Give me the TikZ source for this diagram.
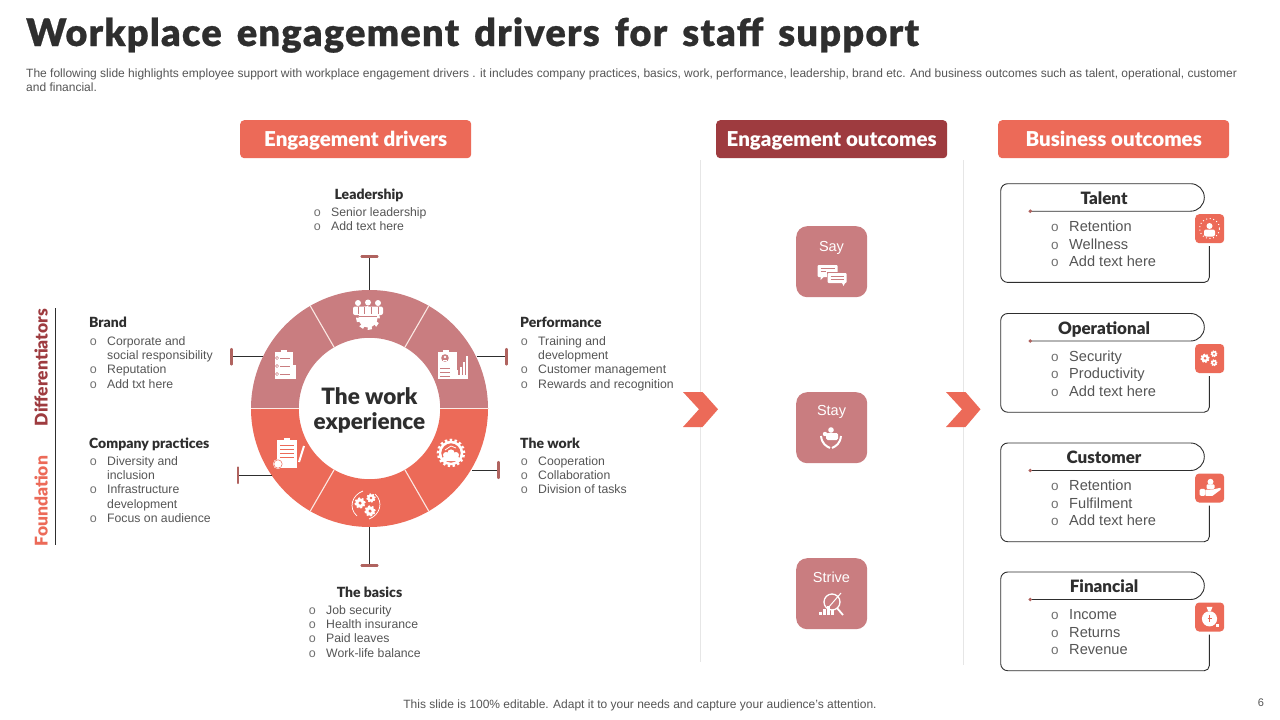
\documentclass[tikz,border=0pt]{standalone}
\usepackage{fontspec}
\setmainfont{Liberation Sans}
\newfontfamily\blk{Lato Black}
\newfontfamily\blkt[LetterSpace=3.2,WordSpace=1.5,FakeBold=.6]{Lato Black}
\definecolor{coral}{HTML}{EC6A58}
\definecolor{rosec}{HTML}{C97D80}
\definecolor{wine}{HTML}{9E3B3F}
\definecolor{ink}{HTML}{2E2E2E}
\definecolor{bodyt}{HTML}{555555}
\definecolor{bullc}{HTML}{707070}
\definecolor{capc}{HTML}{B0635F}
\definecolor{sepc}{HTML}{E6E6E6}
\definecolor{ringdiv}{HTML}{FBE9E4}
\newcount\tc
\tikzset{
  hdr/.style={rounded corners=4pt,text=white,font=\blk\fontsize{20.5}{22}\selectfont,minimum width=231pt,minimum height=38pt,inner sep=0pt,text height=16.5pt,text depth=2.5pt,anchor=north west},
  say/.style={fill=rosec,rounded corners=11pt,minimum width=71pt,minimum height=71pt,inner sep=0pt,anchor=north west},
  icbox/.style={fill=coral,rounded corners=4pt,minimum width=29pt,minimum height=29pt,inner sep=0pt,anchor=north west},
  ltxt/.style={anchor=base west,inner sep=0pt,text=bodyt,font=\fontsize{12.25}{14}\selectfont},
  ctxt/.style={anchor=base west,inner sep=0pt,text=bodyt,font=\fontsize{14.6}{18}\selectfont},
  bult/.style={anchor=base west,inner sep=0pt,text=bullc},
  head/.style={anchor=base,inner sep=0pt,text=ink,font=\blk\fontsize{14}{16}\selectfont},
  chead/.style={anchor=base,inner sep=0pt,text=ink,font=\blk\fontsize{17}{19}\selectfont},
  tickl/.style={draw=ink,line width=.9pt},
  capl/.style={draw=capc,line width=2.2pt,line cap=round},
  cardl/.style={draw=ink,line width=.9pt},
  ic/.style={fill=white,draw=none},
}
% line of text, with or without bullet
\newcommand{\bl}[3]{\global\advance\tc by 1 \node[bult,font=\fontsize{12.5}{13}\selectfont] (b\the\tc) at (#1-17.3,#2) {o};\node[ltxt] (t\the\tc) at (#1,#2) {#3};}
\newcommand{\pl}[3]{\global\advance\tc by 1 \node[ltxt] (t\the\tc) at (#1,#2) {#3};}
\newcommand{\cl}[3]{\global\advance\tc by 1 \node[bult,font=\fontsize{13.5}{14}\selectfont] (b\the\tc) at (#1-18,#2) {o};\node[ctxt] (t\the\tc) at (#1,#2) {#3};}
% gear
\newcommand{\gearw}[4]{\fill[white] (#1,#2) circle ({#3*1pt});\draw[white,line width=#3*.35pt,dash pattern=on #3*.42pt off #3*.42pt] (#1,#2) circle ({#3*1.08pt});\fill[#4] (#1,#2) circle ({#3*.38pt});}
% card
\newcommand{\card}[7]{% id, top y, title, l1,l2,l3, icon
 \coordinate (d#1) at (1030.3,#2+27.5);
 \coordinate (e#1) at (1209.3,#2+62.5);
 \draw[cardl] (d#1) -- (1100,#2+27.5) [rounded corners=13.7pt] -- (1204.3,#2+27.5) -- (1204.3,#2) [rounded corners=7pt] -- (1000.7,#2) -- (1000.7,#2+98.7) [rounded corners=5pt] -- (1209.3,#2+98.7) -- (e#1);
 \fill[capc] (d#1) circle (1.9pt);
 \node[chead] (h#1) at (1104,#2+20.5) {#3};
 \cl{1069}{#2+47.5}{#4}\cl{1069}{#2+65.3}{#5}\cl{1069}{#2+82.5}{#6}
 \node[icbox] (i#1) at (1195,#2+30.3) {};
 \begin{scope}[shift={(1209.5,#2+44.8)}]#7\end{scope}
}
\begin{document}
\begin{tikzpicture}[x=1pt,y=-1pt,line join=round]
\useasboundingbox (0,0) rectangle (1280,720);
\fill[white] (0,0) rectangle (1280,720);
% title
\node[anchor=base west,inner sep=0pt,text=ink,font=\blkt\fontsize{38}{40}\selectfont] (title) at (26,46) {Workplace engagement drivers for staff support};
\node[anchor=base west,inner sep=0pt,text=bodyt,font=\fontsize{12}{14}\selectfont] (sub1) at (26,77) {The following slide highlights employee support with workplace engagement drivers . it includes company practices, basics, work, performance, leadership, brand etc. And business outcomes such as talent, operational, customer};
\node[anchor=base west,inner sep=0pt,text=bodyt,font=\fontsize{12}{14}\selectfont] (sub2) at (26,91) {and financial.};
% headers
\node[hdr,fill=coral] (h1) at (240,120) {Engagement drivers};
\node[hdr,fill=wine] (h2) at (716,120) {Engagement outcomes};
\node[hdr,fill=coral] (h3) at (998,120) {Business outcomes};
% separators
\draw[sepc,line width=.8pt] (700,160) -- (700,662);
\draw[sepc,line width=.8pt] (963,160) -- (963,665);
% ring
\coordinate (c) at (369.5,408.5);
\begin{scope}
\clip (200,250) rectangle (540,408.5);
\fill[rosec,even odd rule] (c) circle (118.5pt) (c) circle (70.7pt);
\end{scope}
\begin{scope}
\clip (200,408.5) rectangle (540,560);
\fill[coral,even odd rule] (c) circle (118.5pt) (c) circle (70.7pt);
\end{scope}
\foreach \a/\b/\p/\q in {334.15/347.3/310.25/305.9, 404.85/347.3/428.75/305.9, 334.15/469.7/310.25/511.1, 404.85/469.7/428.75/511.1, 299/408.5/251/408.5, 440/408.5/488/408.5}
  \draw[ringdiv,line width=1.1pt] (\a,\b) -- (\p,\q);
\node[font=\blk\fontsize{22.5}{25}\selectfont,text=ink,align=center,inner sep=0pt] (wx) at (369.5,410.5) {The work\\experience};
% ticks
\foreach \n/\ax/\ay/\bx/\by/\ca/\cb/\cc/\cd in {
 t/369.5/290/369.5/256.5/361.5/256.5/377.5/256.5,
 b/369.5/527/369.5/565.5/361.5/565.5/377.5/565.5,
 r/476.7/356.7/506.5/356.7/506.5/349/506.5/364.5,
 l/263/356.7/231.5/356.7/231.5/349/231.5/364.5,
 s/472/470/498.5/470/498.5/462/498.5/478,
 q/272/475/238/475/238/467.5/238/483}{
 \coordinate (\n0) at (\ax,\ay);\coordinate (\n1) at (\bx,\by);
 \coordinate (\n2) at (\ca,\cb);\coordinate (\n3) at (\cc,\cd);
 \draw[tickl] (\n0) -- (\n1);
 \draw[capl] (\n2) -- (\n3);
}
% ---- ring icons
\begin{scope}[shift={(368,313)}]% leadership
 \gearw{0}{5}{9.5}{white}
 \foreach \x/\y in {-10/-10,0/-10.5,10/-10}{\fill[white] (\x,\y) circle (3pt);}
 \fill[white,rounded corners=2pt] (-15,-6.5) rectangle (15,2);
 \draw[rosec,line width=.5pt] (-10,-6.5) -- (-10,1) (-3.5,-6.5) -- (-3.5,1) (3.5,-6.5) -- (3.5,1) (10,-6.5) -- (10,1);
 \draw[rosec,line width=.6pt] (-9,3) -- (9,3);
\end{scope}
\begin{scope}[shift={(452,365)}]% performance
 \fill[ic] (-14,-13) rectangle (5,14);
 \fill[ic] (-9,-15) rectangle (-3,-12);
 \fill[rosec] (-7,-7) circle (3.8pt);
 \fill[white] (-7,-8) circle (1.4pt);
 \fill[white] (-9.3,-5.5) rectangle (-4.7,-4.2);
 \draw[rosec,line width=.6pt] (-12,3) -- (-2,3) (-12,7) -- (-2,7) (-12,11) -- (-2,11);
 \fill[white] (0,14) rectangle (16,10);
 \foreach \x/\h in {1/6,4.3/9,7.6/12,10.9/17,14/23}{\fill[white] (\x,14) rectangle (\x+1.9,14-\h);}
\end{scope}
\begin{scope}[shift={(285,365)}]% brand
 \fill[ic] (-10,-13) rectangle (8,14);
 \fill[ic] (8,0) rectangle (11,14);
 \fill[ic] (-4,-15) rectangle (2,-12);
 \foreach \y in {-7,1,9}{\draw[rosec,line width=.5pt] (-8,\y) circle (1.6pt);\draw[rosec,line width=.5pt] (-5,\y) -- (5,\y);}
\end{scope}
\begin{scope}[shift={(287,453)}]% company practices
 \fill[ic] (-10,-13) rectangle (10,15);
 \fill[ic] (-3,-15) rectangle (3,-12);
 \foreach \y in {-8,-4,0,4}{\draw[coral,line width=.6pt] (-7,\y) -- (7,\y);}
 \draw[white,line width=2pt] (12,9) -- (17,-7);
 \fill[white] (-9,11) circle (5pt);
 \draw[coral,line width=.5pt] (-9,11) circle (4.2pt);
\end{scope}
\begin{scope}[shift={(451,453)}]% the work
 \draw[white,line width=2.5pt] (0,0) circle (11pt);
 \draw[white,line width=2.6pt,dash pattern=on 2.4pt off 2.4pt] (0,0) circle (13pt);
 \fill[white] (-5,2) circle (3pt) (0,0) circle (3.6pt) (5,2) circle (3pt);
 \fill[white,rounded corners=2pt] (-8,3) rectangle (8,8);
 \draw[white,line width=.8pt] (-6,-3) -- (0,-7) -- (5,-5);
\end{scope}
\begin{scope}[shift={(366,505)}]% basics
 \draw[white,line width=.7pt] (-9,11) .. controls (-18,3) and (-14,-10) .. (-3,-14);
 \draw[white,line width=.7pt] (9,-11) .. controls (18,-3) and (14,10) .. (3,14);
 \gearw{-6}{-2}{4.6}{coral}
 \gearw{5}{-7}{3.8}{coral}
 \gearw{4}{6}{4.6}{coral}
\end{scope}
% side labels
\coordinate (v0) at (55,308);\coordinate (v1) at (55,545);
\draw[ink,line width=.9pt] (v0) -- (v1);
\node[rotate=90,font=\blk\fontsize{17.5}{19}\selectfont,text=wine,inner sep=0pt] (dif) at (41,367.5) {Differentiators};
\node[rotate=90,font=\blk\fontsize{17.5}{19}\selectfont,text=coral,inner sep=0pt] (fou) at (41,501) {Foundation};
% left lists
\node[head,anchor=base west] (nb) at (89,327) {Brand};
\bl{107}{345}{Corporate and}\pl{107}{359}{social responsibility}\bl{107}{373}{Reputation}\bl{107}{388}{Add txt here}
\node[head,anchor=base west] (nc) at (89,448) {Company  practices};
\bl{107}{465}{Diversity and}\pl{107}{479}{inclusion}\bl{107}{493.5}{Infrastructure}\pl{107}{508}{development}\bl{107}{522}{Focus on audience}
% top & bottom
\node[head] (nl) at (369,199) {Leadership};
\bl{331}{216}{Senior leadership}\bl{331}{230}{Add text here}
\node[head] (nq) at (369.5,597) {The basics};
\bl{326}{614}{Job security}\bl{326}{628}{Health insurance}\bl{326}{642}{Paid leaves}\bl{326}{657}{Work-life balance}
% right lists
\node[head,anchor=base west] (np) at (520,327) {Performance};
\bl{538}{345}{Training and}\pl{538}{359}{development}\bl{538}{373}{Customer management}\bl{538}{388}{Rewards and recognition}
\node[head,anchor=base west] (nw) at (520,448) {The work};
\bl{538}{465}{Cooperation}\bl{538}{479}{Collaboration}\bl{538}{493}{Division of tasks}
% chevrons
\fill[coral] (683,392) -- (702.5,392) -- (718,409.3) -- (702.5,427) -- (683,427) -- (699,409.3) -- cycle;
\fill[coral] (946,392) -- (965.5,392) -- (980.5,409.3) -- (965.5,427) -- (946,427) -- (962,409.3) -- cycle;
% say/stay/strive
\node[say] (say) at (796,226) {};
\node[say] (stay) at (796,392) {};
\node[say] (str) at (796,558) {};
\node[text=white,font=\fontsize{14.5}{16}\selectfont,inner sep=0pt,anchor=base] (sayt) at (831.5,251) {Say};
\node[text=white,font=\fontsize{14.5}{16}\selectfont,inner sep=0pt,anchor=base] (stayt) at (831.5,415) {Stay};
\node[text=white,font=\fontsize{14.5}{16}\selectfont,inner sep=0pt,anchor=base] (strt) at (831.5,582) {Strive};
\begin{scope}[shift={(831.5,274)}]
 \fill[white,rounded corners=1pt] (-14,-9) rectangle (6,3);
 \fill[white] (-11,2) -- (-11,6) -- (-7,2) -- cycle;
 \fill[rosec] (-5,-2) rectangle (15,9);
 \fill[white,rounded corners=1pt] (-4,-1) rectangle (15,9);
 \fill[white] (10,8) -- (12,12) -- (14,8) -- cycle;
 \draw[rosec,line width=.5pt] (-11,-6) -- (3,-6) (-11,-3) -- (-6,-3) (-1,2) -- (12,2) (-1,5) -- (12,5);
\end{scope}
\begin{scope}[shift={(831,438)}]
 \fill[white] (0,-8) circle (2.8pt);
 \fill[white] (-6,-4) circle (2.2pt);
 \fill[white,rounded corners=1.5pt] (-5,-5) rectangle (7,2);
 \draw[white,line width=2pt] (-10,-2) .. controls (-9,6) and (-5,8) .. (-1,10);
 \draw[white,line width=2pt] (10,-2) .. controls (9,6) and (5,8) .. (1,10);
\end{scope}
\begin{scope}[shift={(831,605)}]
 \draw[white,line width=1.3pt] (1,-3) circle (8pt);
 \draw[white,line width=1.8pt] (6,3) -- (12,10);
 \draw[white,line width=1pt] (-3,3) -- (10,-12);
 \foreach \x/\h in {-12/3,-8/6,-4/9,0/5}{\fill[white] (\x,10) rectangle (\x+3,10-\h);}
\end{scope}
% cards
\card{a}{183.7}{Talent}{Retention}{Wellness}{Add text here}{%
 \fill[white] (0,-2.5) circle (3pt);
 \fill[white,rounded corners=2pt] (-5.5,1) rectangle (5.5,8);
 \draw[white,line width=1pt,dash pattern=on 1pt off 2.6pt] (0,0) circle (10pt);}
\card{b}{313.5}{Operational}{Security}{Productivity}{Add text here}{%
 \gearw{-4.5}{0}{3.8}{coral}\gearw{4.5}{-4.5}{2.8}{coral}\gearw{4.5}{4.5}{2.8}{coral}}
\card{c}{443}{Customer}{Retention}{Fulfilment}{Add text here}{%
 \fill[white] (1,-6) circle (3pt);
 \fill[white,rounded corners=1pt] (-3,-3.5) rectangle (5,1);
 \fill[white,rounded corners=1.5pt] (-10,1) rectangle (-4,8);
 \fill[white] (-4,2) -- (4,1.5) -- (11,0) -- (11,2) -- (3,8) -- (-4,8) -- cycle;}
\card{d}{572}{Financial}{Income}{Returns}{Revenue}{%
 \fill[white] (-3,-10) -- (3,-10) -- (1.5,-6) -- (-1.5,-6) -- cycle;
 \fill[white] (0,2) circle (7.6pt);
 \fill[white] (6,7) rectangle (9.5,10);
 \draw[coral,line width=.8pt] (0,-2) -- (0,5) (-2,2) -- (2,2);}
% footer
\node[anchor=base,inner sep=0pt,text=bodyt,font=\fontsize{12}{14}\selectfont] (foot) at (640,708) {This slide is 100\% editable. Adapt it to your needs and capture your audience's attention.};
\node[anchor=base,inner sep=0pt,text=bodyt,font=\fontsize{11}{13}\selectfont] (pg) at (1261,706) {6};
\end{tikzpicture}
\end{document}
